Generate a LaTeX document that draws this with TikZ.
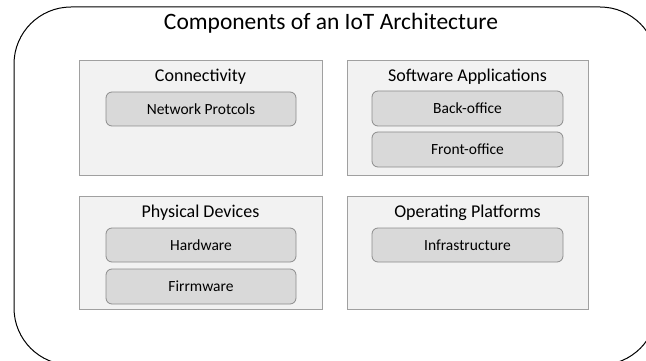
\documentclass[tikz,border=0pt]{standalone}
\usepackage{fontspec}
\setmainfont{Carlito}
\definecolor{panelfill}{HTML}{F2F2F2}
\definecolor{paneldraw}{HTML}{A0A0A0}
\definecolor{itemfill}{HTML}{D9D9D9}
\definecolor{itemdraw}{HTML}{8C8C8C}
\begin{document}
\begin{tikzpicture}[x=1pt,y=-1pt,
  outerbox/.style={draw=black,line width=1pt,rounded corners=57pt},
  panel/.style={draw=paneldraw,fill=panelfill,line width=0.8pt},
  item/.style={draw=itemdraw,fill=itemfill,line width=0.8pt,rounded corners=6pt},
  ptitle/.style={font=\fontsize{18}{21}\selectfont,text=black},
  itext/.style={font=\fontsize{15.5}{18}\selectfont,text=black}]
\useasboundingbox (0,0) rectangle (646,361);
\clip (0,0) rectangle (646,361);
\draw[outerbox] (14,7) rectangle (657,365);
\node[font=\fontsize{23.5}{28}\selectfont] (title) at (331,23) {Components of an IoT Architecture};
% panels
\draw[panel] (79,60) rectangle (322,175);
\draw[panel] (347,60) rectangle (588,175);
\draw[panel] (79,196) rectangle (322,309);
\draw[panel] (347,196) rectangle (588,309);
\node[ptitle] (conn) at (200.5,77) {Connectivity};
\node[ptitle] (soft) at (467.5,77) {Software Applications};
\node[ptitle] (phys) at (200.5,213) {Physical Devices};
\node[ptitle] (oper) at (467.5,213) {Operating Platforms};
% items
\draw[item] (106,92) rectangle (296,126);
\node[itext] (net) at (201,109) {Network Protcols};
\draw[item] (372,91) rectangle (563,126);
\node[itext] (back) at (467.5,108.5) {Back-office};
\draw[item] (372,132) rectangle (563,167);
\node[itext] (front) at (467.5,149.5) {Front-office};
\draw[item] (106,228) rectangle (296,262);
\node[itext] (hard) at (201,245) {Hardware};
\draw[item] (106,269) rectangle (296,304);
\node[itext] (firm) at (201,286.5) {Firrmware};
\draw[item] (372,228) rectangle (563,262);
\node[itext] (infra) at (467.5,245) {Infrastructure};
\end{tikzpicture}
\end{document}
